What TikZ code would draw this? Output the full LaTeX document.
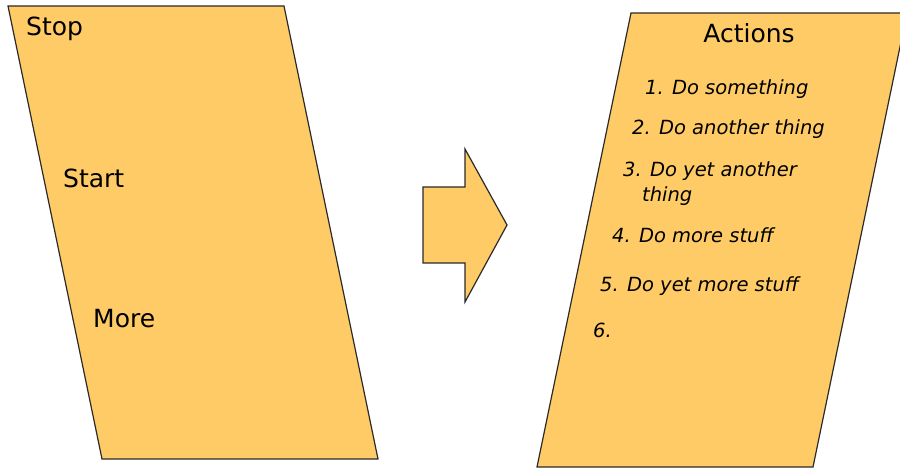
\documentclass[tikz,border=0pt]{standalone}
\usepackage{fontspec}
\setmainfont{DejaVu Sans}
\definecolor{paper}{HTML}{FECB66}
\definecolor{edge}{HTML}{2A2A2A}
\begin{document}
\begin{tikzpicture}[x=1pt,y=-1pt,
  shapefill/.style={fill=paper,draw=edge,line width=1.2pt,line join=miter},
  bigtxt/.style={anchor=base west,inner sep=0pt,font=\fontsize{25}{29}\selectfont},
  itemtxt/.style={anchor=base west,inner sep=0pt,font=\fontsize{19.5}{23}\selectfont\itshape}]
\useasboundingbox (0,0) rectangle (900,468);
% left parallelogram
\draw[shapefill] (8,6) -- (284,6) -- (378,459) -- (102,459) -- cycle;
% arrow
\draw[shapefill] (423,187) -- (465,187) -- (465,149) -- (507,225) -- (465,302) -- (465,263) -- (423,263) -- cycle;
% right parallelogram
\draw[shapefill] (631,13) -- (907,13) -- (813,467) -- (537,467) -- cycle;
% left texts
\node[bigtxt] (stop) at (26,36) {Stop};
\node[bigtxt] (start) at (63,187) {Start};
\node[bigtxt] (more) at (93,327) {More};
% right texts
\node[bigtxt,anchor=base] (actions) at (749,43) {Actions};
\node[itemtxt] (i1) at (645,95) {1. Do something};
\node[itemtxt] (i2) at (632,135) {2. Do another thing};
\node[itemtxt] (i3) at (623,177) {3. Do yet another};
\node[itemtxt] (i3b) at (642,201) {thing};
\node[itemtxt] (i4) at (612,242) {4. Do more stuff};
\node[itemtxt] (i5) at (600,291) {5. Do yet more stuff};
\node[itemtxt] (i6) at (593,337) {6.};
\end{tikzpicture}
\end{document}
